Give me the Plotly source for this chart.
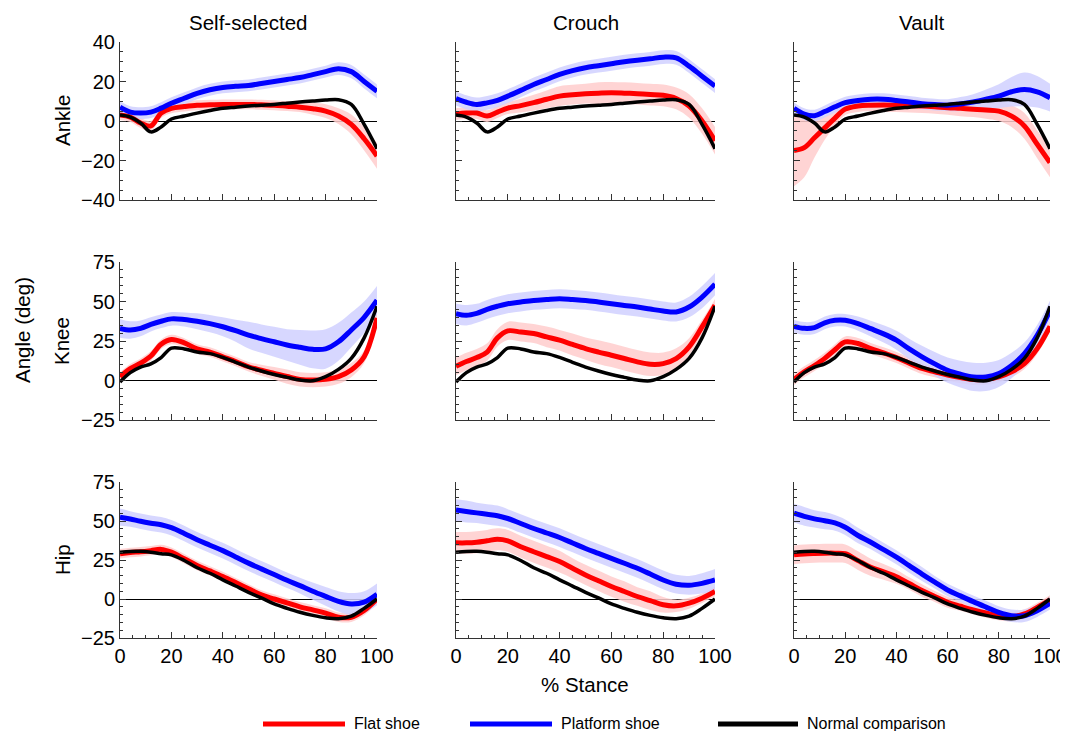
import plotly.graph_objects as go

# ---------------- data ----------------
STANCE = [0, 4, 8, 12, 16, 20, 25, 30, 35, 40, 45, 50, 55, 60, 65, 70, 75, 80, 85, 90, 95, 100]

COLUMNS = ["Self-selected", "Crouch", "Vault"]
JOINTS = ["Ankle", "Knee", "Hip"]
SERIES = ["Flat shoe", "Platform shoe", "Normal comparison"]

# Normal comparison (same in every column)
ANKLE_NORMAL = [3, 2, -1, -5.5, -3, 1, 2.5, 4, 5.3, 6.4, 7, 7.6, 8, 8.4, 9, 9.6, 10.1, 10.6, 10.8, 8.4, -1.7, -14]
KNEE_NORMAL = [-1, 5, 8.5, 10.5, 14.5, 20.5, 20, 18, 17, 14.6, 11.5, 8.5, 6, 3.8, 2, 0.3, -0.2, 2.4, 7, 14, 27, 47]
HIP_NORMAL = [30, 30.5, 30.6, 30, 29, 28.3, 24.7, 20, 16.5, 12.3, 8.3, 4.3, 0.7, -3.2, -6, -8.5, -10.5, -12, -12.6, -11, -6, 0]

# Self-selected
SELF_ANKLE_FLAT = [3, 2, -1, -2.5, 4, 6.4, 7.3, 8, 8.2, 8.4, 8.4, 8.4, 8.2, 8, 7.5, 7, 6.2, 5, 2.5, -1.7, -9, -17.7]
SELF_ANKLE_FLAT_SD = [2.5, 2.5, 2.5, 2.5, 2.5, 2.5, 2.5, 2.5, 2.5, 2.5, 2.5, 2.5, 2.5, 2.5, 2.5, 2.5, 3, 3.5, 4, 5, 6, 6.5]
SELF_ANKLE_PLAT = [7, 4.5, 4, 4.5, 6.5, 9, 11.5, 14, 15.8, 17, 17.6, 18, 19, 20, 21, 22, 23.5, 25, 26.5, 25, 20, 15]
SELF_ANKLE_PLAT_SD = [3, 3, 3, 3, 3, 3, 3, 3, 3, 3, 3, 3, 3, 3, 3, 3, 3, 3, 3.2, 3.4, 3.5, 3.5]
SELF_KNEE_FLAT = [2.4, 7.5, 11, 15.5, 23, 26, 23.8, 20, 18, 15, 12, 8.7, 6.5, 4.5, 2.5, 0.7, 0.3, 0.7, 2.4, 6.6, 15, 39.6]
SELF_KNEE_FLAT_SD = [3, 3, 3, 3, 3, 3, 3, 3, 3, 3, 3, 3, 3.5, 4, 4.5, 4.5, 4.5, 4.5, 4.5, 4.5, 4, 4]
SELF_KNEE_PLAT = [33, 32, 33, 35.5, 37.5, 39, 38.6, 37.5, 36, 34, 31.5, 28.7, 26.5, 24.5, 22.5, 21, 19.7, 20, 24.5, 32, 40, 50.8]
SELF_KNEE_PLAT_SD = [6, 5.5, 5, 4.5, 4.3, 4.3, 4.5, 5, 5.5, 6, 7, 8.5, 9, 9.5, 10, 11, 12, 12.5, 12, 11, 10, 9]
SELF_HIP_FLAT = [29, 29.8, 30.3, 31, 31.8, 30, 25.8, 21.5, 18, 14.4, 10.5, 6.5, 2.6, 0, -2.5, -5, -7, -9, -11.7, -11.7, -7.4, 0]
SELF_HIP_FLAT_SD = [3, 3, 3, 3, 3, 3, 3, 3, 3, 3, 3, 3, 3, 3, 3, 3, 3, 3, 3, 3, 3, 3]
SELF_HIP_PLAT = [52.5, 51.3, 49.8, 48.6, 47.6, 45.7, 42, 38, 34.5, 31, 27, 23, 19.3, 15.7, 12, 8.6, 5, 1.7, -1.5, -3.2, -2, 3]
SELF_HIP_PLAT_SD = [5.5, 5, 5, 5, 5, 5, 5, 5, 5, 5, 5, 5, 5, 5, 5, 5, 5.5, 6, 6.5, 7, 7, 7]

# Crouch
CROUCH_ANKLE_FLAT = [3.5, 4, 4, 2.5, 4.5, 6.5, 7.8, 9.3, 11, 12.6, 13.3, 13.8, 14.1, 14.3, 14.1, 13.8, 13.4, 13, 11.4, 7.6, 0, -10]
CROUCH_ANKLE_FLAT_SD = [3, 3, 3, 3, 3, 3, 3.5, 4, 4.5, 5, 5, 5, 5.5, 5.5, 5.5, 5.5, 5.5, 5.5, 5.5, 6, 6.5, 7]
CROUCH_ANKLE_PLAT = [11.4, 9.5, 8.4, 9.2, 10.5, 12.6, 15.5, 18.5, 21, 23.6, 25.5, 27, 28, 29, 30, 30.8, 31.5, 32.3, 32, 27.8, 22.7, 17.7]
CROUCH_ANKLE_PLAT_SD = [3.5, 3.5, 3.5, 3.5, 3.5, 3.5, 3.5, 3.5, 3.5, 3.5, 3.5, 3.5, 3.5, 3.5, 3.5, 3.5, 3.5, 3.5, 3.5, 3.5, 3.5, 3.5]
CROUCH_KNEE_FLAT = [9, 12, 14.5, 18, 27, 31.4, 30.7, 29.7, 27.6, 25.5, 22.8, 20.2, 18, 16, 13.9, 11.8, 10.3, 10.7, 13.9, 21.3, 33.9, 47.6]
CROUCH_KNEE_FLAT_SD = [5.5, 5.5, 5.5, 5.5, 5.5, 5.8, 6, 6, 6.5, 6.5, 7, 7, 7.5, 7.5, 7.5, 7.5, 7.5, 7, 6.5, 5.5, 4.5, 4]
CROUCH_KNEE_PLAT = [42.3, 41.3, 42.5, 45, 47, 48.6, 49.7, 50.7, 51.3, 51.8, 51.3, 50.7, 49.7, 48.6, 47.5, 46.5, 45.2, 44, 43.4, 46.5, 52.8, 61]
CROUCH_KNEE_PLAT_SD = [6.5, 6.5, 6, 6, 6, 6, 6, 6, 6, 6, 6, 6, 6, 6, 6, 6, 6, 6, 6, 6.5, 7, 7]
CROUCH_HIP_FLAT = [36, 36, 36.4, 37.3, 38.3, 37.3, 33.5, 30.3, 27.2, 24, 19.7, 15.4, 11.7, 8, 4.8, 1.6, -1, -3.7, -4.4, -2.7, 0.5, 4.8]
CROUCH_HIP_FLAT_SD = [7, 7, 7, 7, 7, 7, 7, 7, 7, 7, 6.5, 6.5, 6.5, 6.5, 6.5, 6, 6, 5, 4, 3.5, 3, 3]
CROUCH_HIP_PLAT = [57, 56.1, 55.2, 54.3, 53.4, 51.6, 48.4, 45.2, 42.3, 39.4, 35.9, 32.4, 29.2, 26, 22.9, 19.7, 16, 12.2, 9.5, 8.8, 10, 12.2]
CROUCH_HIP_PLAT_SD = [7, 7, 6.5, 6.5, 6.5, 6, 6, 6, 6, 6, 6, 6, 6, 6, 6, 6, 6, 6, 6, 6, 6.5, 7]

# Vault
VAULT_ANKLE_FLAT = [-15, -13.5, -8.5, -3.5, 1.5, 6, 7.6, 8, 8.1, 8, 7.8, 7.6, 7.2, 6.7, 6.4, 6, 5.6, 5, 2.5, -2.5, -11.8, -21]
VAULT_ANKLE_FLAT_SD = [18, 15, 10, 6, 4, 3, 3, 3, 3.5, 3.5, 3.5, 3.5, 3.5, 3.5, 4, 4, 4.5, 5, 5.5, 6.5, 7, 7.5]
VAULT_ANKLE_PLAT = [6.4, 3.5, 2.7, 4.8, 7.2, 9.3, 10.4, 11, 11, 10.4, 9.6, 8.8, 8.3, 8, 8.6, 9.6, 11, 12.6, 14.8, 16, 14.8, 11.8]
VAULT_ANKLE_PLAT_SD = [3, 3, 3, 3, 3, 3, 3, 3, 3, 3, 3, 3, 3, 3, 3.5, 4, 5, 6, 7.5, 8.5, 8, 7]
VAULT_KNEE_FLAT = [0.6, 5.5, 9.5, 14, 19.5, 24.4, 23.4, 20.2, 17.5, 14.5, 11, 7.6, 5.5, 3.4, 1.8, 0.6, 0.8, 2.3, 5.5, 10.7, 20.2, 34.3]
VAULT_KNEE_FLAT_SD = [3.5, 3.5, 3.5, 3.5, 3.5, 3.5, 3.5, 3.5, 3.5, 3.5, 3.5, 3.5, 3.5, 3.5, 3.5, 3.5, 3.5, 3.5, 3.5, 3.5, 3.5, 3.5]
VAULT_KNEE_PLAT = [34.3, 33, 33.5, 36.5, 38.1, 38.1, 36, 32.8, 29.5, 25.5, 20, 15, 10.5, 6.5, 4, 2.3, 2.3, 4.4, 9.5, 17, 28.6, 44.4]
VAULT_KNEE_PLAT_SD = [4, 4, 4, 4, 4, 4, 4.5, 5, 5.5, 6, 6.5, 7, 7.5, 8, 8.5, 9, 9, 8.5, 8, 7, 6.5, 6]
VAULT_HIP_FLAT = [28.3, 28.9, 29.2, 29.4, 29.4, 29, 24.6, 20.3, 17.4, 14.3, 9.9, 5.4, 1.6, -2.1, -4.6, -7, -9, -10.7, -11.3, -9.6, -5.4, -0.6]
VAULT_HIP_FLAT_SD = [6, 6, 6, 6, 6, 6, 6, 5.5, 5, 4.5, 4, 4, 3.5, 3.5, 3, 3, 3, 3, 3, 3, 3, 3]
VAULT_HIP_PLAT = [55, 53, 51.4, 50.2, 48.8, 46, 40.7, 36.4, 31.6, 26.8, 21.4, 16, 10.8, 5.8, 2, -1.7, -5.2, -8.6, -10.7, -10.7, -7.5, -2.8]
VAULT_HIP_PLAT_SD = [6, 6, 5.5, 5.5, 5, 5, 5, 4.5, 4.5, 4.5, 4.5, 4.5, 4, 4, 4, 4, 4, 4, 4, 4, 4, 4]

Y_RANGES = {"Ankle": [-40, 40], "Knee": [-25, 75], "Hip": [-25, 75]}
Y_DTICK = {"Ankle": 20, "Knee": 25, "Hip": 25}

NORMAL = {"Ankle": ANKLE_NORMAL, "Knee": KNEE_NORMAL, "Hip": HIP_NORMAL}
PANELS = {
    ("Self-selected", "Ankle"): (SELF_ANKLE_FLAT, SELF_ANKLE_FLAT_SD, SELF_ANKLE_PLAT, SELF_ANKLE_PLAT_SD),
    ("Self-selected", "Knee"): (SELF_KNEE_FLAT, SELF_KNEE_FLAT_SD, SELF_KNEE_PLAT, SELF_KNEE_PLAT_SD),
    ("Self-selected", "Hip"): (SELF_HIP_FLAT, SELF_HIP_FLAT_SD, SELF_HIP_PLAT, SELF_HIP_PLAT_SD),
    ("Crouch", "Ankle"): (CROUCH_ANKLE_FLAT, CROUCH_ANKLE_FLAT_SD, CROUCH_ANKLE_PLAT, CROUCH_ANKLE_PLAT_SD),
    ("Crouch", "Knee"): (CROUCH_KNEE_FLAT, CROUCH_KNEE_FLAT_SD, CROUCH_KNEE_PLAT, CROUCH_KNEE_PLAT_SD),
    ("Crouch", "Hip"): (CROUCH_HIP_FLAT, CROUCH_HIP_FLAT_SD, CROUCH_HIP_PLAT, CROUCH_HIP_PLAT_SD),
    ("Vault", "Ankle"): (VAULT_ANKLE_FLAT, VAULT_ANKLE_FLAT_SD, VAULT_ANKLE_PLAT, VAULT_ANKLE_PLAT_SD),
    ("Vault", "Knee"): (VAULT_KNEE_FLAT, VAULT_KNEE_FLAT_SD, VAULT_KNEE_PLAT, VAULT_KNEE_PLAT_SD),
    ("Vault", "Hip"): (VAULT_HIP_FLAT, VAULT_HIP_FLAT_SD, VAULT_HIP_PLAT, VAULT_HIP_PLAT_SD),
}

# ---------------- styling / layout ----------------
# The page body adds an 8 px margin, so the figure is 8 px smaller on each
# axis and every screen position below is shifted by OFF.
OFF = 8
W, H = 1068 - OFF, 731 - OFF
FONT = "Liberation Sans, Arial, sans-serif"
RED, BLUE, BLACK = "#ff0000", "#0000ff", "#000000"
RED_BAND, BLUE_BAND = "rgba(255,205,205,0.85)", "rgba(208,208,255,0.85)"
AXC = "#333333"
COLORS = [RED, BLUE, BLACK]
WIDTHS = [5, 5, 3.5]

# screen-pixel positions (as seen in the 1068x731 window)
COL_PX = [(120, 377), (456, 715), (794, 1050)]
ROW_PX = [(42, 200), (262, 420), (482, 638)]
LEGEND_PX = [(263, 345), (470, 552), (718, 798)]
LEGEND_Y_PX = 724


def px(xs):
    return (xs - OFF) / W


def py(ys):
    return 1 - (ys - OFF) / H


def xdom(c):
    a, b = COL_PX[c]
    return [px(a), px(b)]


def ydom(r):
    a, b = ROW_PX[r]
    return [py(b), py(a)]


fig = go.Figure()
layout = {}

for r, joint in enumerate(JOINTS):
    for c, col in enumerate(COLUMNS):
        idx = r * 3 + c + 1
        xs = "x" if idx == 1 else f"x{idx}"
        ys = "y" if idx == 1 else f"y{idx}"
        flat, flat_sd, plat, plat_sd = PANELS[(col, joint)]
        normal = NORMAL[joint]

        for mean, sd, band in ((flat, flat_sd, RED_BAND), (plat, plat_sd, BLUE_BAND)):
            lo = [m - s for m, s in zip(mean, sd)]
            hi = [m + s for m, s in zip(mean, sd)]
            fig.add_trace(go.Scatter(x=STANCE, y=lo, xaxis=xs, yaxis=ys, mode="lines",
                                     line=dict(width=0, shape="spline", smoothing=1.0),
                                     showlegend=False, hoverinfo="skip"))
            fig.add_trace(go.Scatter(x=STANCE, y=hi, xaxis=xs, yaxis=ys, mode="lines",
                                     line=dict(width=0, shape="spline", smoothing=1.0),
                                     fill="tonexty", fillcolor=band,
                                     showlegend=False, hoverinfo="skip"))

        for name, vals, color, wdt in zip(SERIES, (flat, plat, normal), COLORS, WIDTHS):
            fig.add_trace(go.Scatter(x=STANCE, y=vals, xaxis=xs, yaxis=ys, mode="lines",
                                     name=name, legendgroup=name, showlegend=False,
                                     line=dict(color=color, width=wdt, shape="spline", smoothing=1.0)))

        xkey = "xaxis" if idx == 1 else f"xaxis{idx}"
        ykey = "yaxis" if idx == 1 else f"yaxis{idx}"
        layout[xkey] = dict(
            domain=xdom(c), anchor=ys, range=[0, 100], showline=True, linecolor=AXC, linewidth=1,
            ticks="inside", ticklen=6, tickwidth=1, tickcolor=AXC, tick0=0, dtick=20,
            showgrid=False, zeroline=False, showticklabels=(r == 2),
            tickfont=dict(size=20, color="black", family=FONT),
            minor=dict(dtick=5, ticks="inside", ticklen=3, tickcolor=AXC, showgrid=False),
        )
        layout[ykey] = dict(
            domain=ydom(r), anchor=xs, range=Y_RANGES[joint], showline=True, linecolor=AXC,
            linewidth=1, ticks="inside", ticklen=6, tickwidth=1, tickcolor=AXC,
            tick0=0, dtick=Y_DTICK[joint], showgrid=False,
            zeroline=True, zerolinecolor="black", zerolinewidth=1,
            showticklabels=(c == 0), tickfont=dict(size=20, color="black", family=FONT),
            minor=dict(dtick=5, ticks="inside", ticklen=3, tickcolor=AXC, showgrid=False),
        )

TXT = dict(size=20.5, color="black", family=FONT)
annotations = []
for c, col in enumerate(COLUMNS):
    a, b = COL_PX[c]
    annotations.append(dict(text=col, x=px((a + b) / 2), y=py(22), xref="paper", yref="paper",
                            showarrow=False, xanchor="center", yanchor="middle", font=TXT))
for r, joint in enumerate(JOINTS):
    a, b = ROW_PX[r]
    annotations.append(dict(text=joint, x=px(62), y=py((a + b) / 2), xref="paper", yref="paper",
                            showarrow=False, textangle=-90, xanchor="center", yanchor="middle",
                            font=TXT))
annotations.append(dict(text="Angle (deg)", x=px(22), y=py(330), xref="paper", yref="paper",
                        showarrow=False, textangle=-90, xanchor="center", yanchor="middle",
                        font=TXT))
annotations.append(dict(text="% Stance", x=px(585), y=py(684), xref="paper", yref="paper",
                        showarrow=False, xanchor="center", yanchor="middle", font=TXT))

# legend drawn as key lines + labels
shapes = []
for (a, b), name, color, wdt in zip(LEGEND_PX, SERIES, COLORS, WIDTHS):
    shapes.append(dict(type="line", xref="paper", yref="paper", x0=px(a), x1=px(b),
                       y0=py(LEGEND_Y_PX), y1=py(LEGEND_Y_PX),
                       line=dict(color=color, width=max(wdt, 5))))
    annotations.append(dict(text=name, x=px(b + 7), y=py(LEGEND_Y_PX - 1), xref="paper",
                            yref="paper", showarrow=False, xanchor="left", yanchor="middle",
                            font=dict(size=16, color="black", family=FONT)))

fig.update_layout(
    width=W, height=H, autosize=False,
    margin=dict(l=0, r=0, t=0, b=0, pad=0, autoexpand=False),
    paper_bgcolor="white", plot_bgcolor="white",
    font=dict(family=FONT, color="black"),
    showlegend=False,
    annotations=annotations,
    shapes=shapes,
    **layout,
)

fig.write_html("out.html")
